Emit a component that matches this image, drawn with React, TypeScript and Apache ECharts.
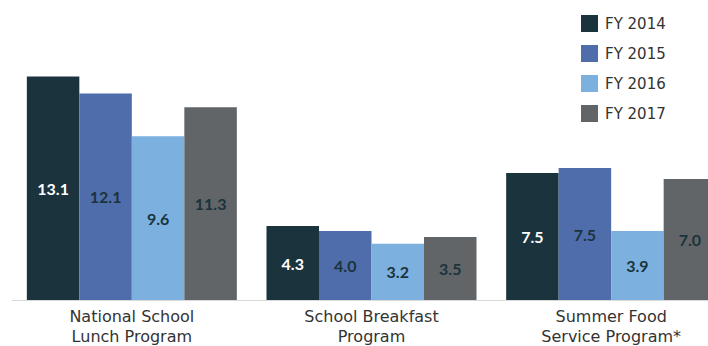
import React, { useEffect, useRef } from "react";
import * as echarts from "echarts";

const categories = [
  "National School\nLunch Program",
  "School Breakfast\nProgram",
  "Summer Food\nService Program*",
];
const seriesNames = ["FY 2014", "FY 2015", "FY 2016", "FY 2017"];
const colors = ["#1b333c", "#506dab", "#7cb1df", "#616568"];

// bar heights
const fy2014 = [13.1, 4.33, 7.44];
const fy2015 = [12.1, 4.04, 7.73];
const fy2016 = [9.6, 3.3, 4.04];
const fy2017 = [11.3, 3.69, 7.09];

// printed labels
const fy2014Labels = ["13.1", "4.3", "7.5"];
const fy2015Labels = ["12.1", "4.0", "7.5"];
const fy2016Labels = ["9.6", "3.2", "3.9"];
const fy2017Labels = ["11.3", "3.5", "7.0"];

const values = [fy2014, fy2015, fy2016, fy2017];
const labels = [fy2014Labels, fy2015Labels, fy2016Labels, fy2017Labels];

export default function App() {
  const ref = useRef<HTMLDivElement>(null);
  useEffect(() => {
    if (!ref.current) return;
    const chart = echarts.init(ref.current, undefined, { renderer: "svg" });
    chart.setOption({
      animation: false,
      backgroundColor: "#ffffff",
      color: colors,
      legend: {
        orient: "vertical",
        left: 581,
        top: 15,
        padding: 0,
        icon: "rect",
        itemWidth: 17,
        itemHeight: 17,
        itemGap: 13,
        textStyle: {
          fontFamily: "DejaVu Sans",
          fontSize: 15,
          color: "#333333",
          padding: [0, 0, 0, 2],
        },
        data: seriesNames,
      },
      grid: {
        left: 12,
        top: 44,
        width: 719,
        height: 256,
        outerBoundsMode: "none",
        containLabel: false,
      },
      xAxis: {
        type: "category",
        data: categories,
        axisLine: { show: true, lineStyle: { color: "#d9d9d9", width: 1 } },
        axisTick: { show: false },
        axisLabel: {
          fontFamily: "DejaVu Sans",
          fontSize: 16,
          lineHeight: 20,
          color: "#333333",
          margin: 6,
          interval: 0,
        },
      },
      yAxis: {
        type: "value",
        min: 0,
        max: 15,
        show: false,
        splitLine: { show: false },
      },
      series: seriesNames.map((name, i) => ({
        name,
        type: "bar",
        data: values[i],
        barWidth: 52.5,
        barGap: "0%",
        itemStyle: { color: colors[i] },
        label: {
          show: true,
          position: "inside",
          formatter: (p: any) => labels[i][p.dataIndex],
          fontFamily: "Lato",
          fontWeight: "bold",
          fontSize: 16,
          color: i === 0 ? "#ffffff" : "#1b333c",
        },
      })),
    });
    return () => chart.dispose();
  }, []);
  return (
    <div
      ref={ref}
      style={{ position: "absolute", left: 0, top: 0, width: 708, height: 346 }}
    />
  );
}
